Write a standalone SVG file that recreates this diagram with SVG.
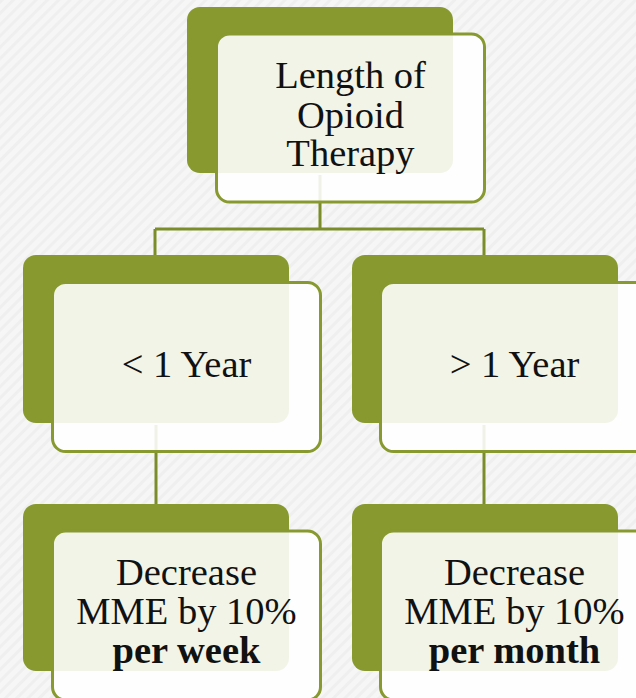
<svg xmlns="http://www.w3.org/2000/svg" width="636" height="698" viewBox="0 0 636 698">
<style>
.back{fill:#87992F;}
.front{fill:#FFFFFF;fill-opacity:0.89;stroke:#87992F;stroke-width:3;}
.conn{stroke:#7A8D28;stroke-width:3;fill:none;}
.t{font-family:"Liberation Serif","Times New Roman",serif;font-size:38.5px;fill:#111111;text-anchor:middle;}
.b{font-weight:bold;}
</style>
<defs>
<pattern id="bg" width="8" height="8" patternUnits="userSpaceOnUse" patternTransform="rotate(-45)">
<rect width="8" height="8" fill="#F6F6F6"/>
<rect width="8" height="3" fill="#EFEFEF"/>
</pattern>
</defs>
<rect width="636" height="698" fill="url(#bg)"/>
<g id="connectors">
<path class="conn" d="M320 175 V229 M155 229 H484 M155 229 V256 M484 229 V256"/>
<path class="conn" d="M156 425 V505"/>
<path class="conn" d="M484 425 V505"/>
</g>
<g id="node-top">
<rect class="back" x="187" y="7" width="266" height="166" rx="13"/>
<rect class="front" x="216.5" y="34" width="268" height="168" rx="13"/>
<text class="t" x="350.5" y="88">Length of</text>
<text class="t" x="350.5" y="128">Opioid</text>
<text class="t" x="350.5" y="166">Therapy</text>
</g>
<g id="node-less">
<rect class="back" x="23" y="255" width="266" height="168" rx="13"/>
<rect class="front" x="52.5" y="282.5" width="268" height="169" rx="13"/>
<text class="t" x="186.5" y="377">&lt; 1 Year</text>
</g>
<g id="node-more">
<rect class="back" x="352" y="255" width="266" height="168" rx="13"/>
<rect class="front" x="380.5" y="282.5" width="268" height="169" rx="13"/>
<text class="t" x="514.5" y="377">&gt; 1 Year</text>
</g>
<g id="node-week">
<rect class="back" x="23" y="504" width="266" height="167" rx="13"/>
<rect class="front" x="52.5" y="531" width="268" height="169" rx="13"/>
<text class="t" x="186.5" y="585">Decrease</text>
<text class="t" x="186.5" y="623.5">MME by 10%</text>
<text class="t b" x="186.5" y="663">per week</text>
</g>
<g id="node-month">
<rect class="back" x="352" y="504" width="266" height="167" rx="13"/>
<rect class="front" x="380.5" y="531" width="268" height="169" rx="13"/>
<text class="t" x="514.5" y="585">Decrease</text>
<text class="t" x="514.5" y="623.5">MME by 10%</text>
<text class="t b" x="514.5" y="663">per month</text>
</g>
</svg>
